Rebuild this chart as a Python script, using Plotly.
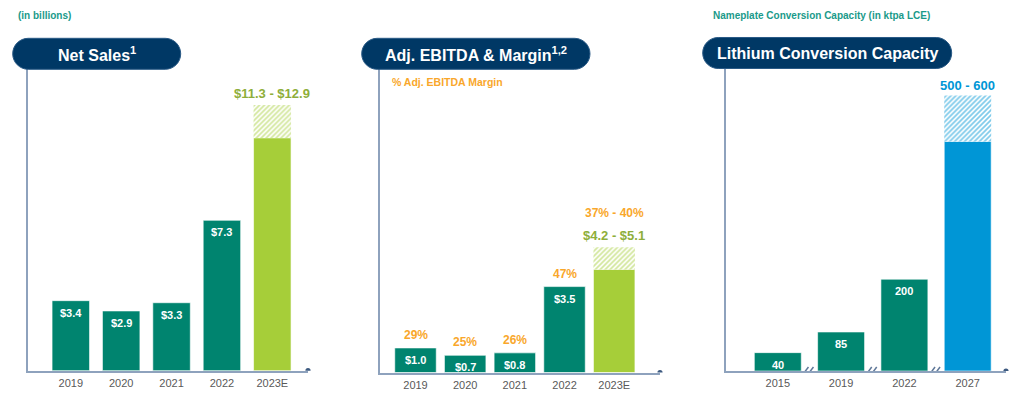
import plotly.graph_objects as go

W, H = 1024, 403

# ---------------- data ----------------
sales_years = ["2019", "2020", "2021", "2022", "2023E"]
net_sales = [3.4, 2.9, 3.3, 7.3, 11.3]
net_sales_high = 12.9
net_sales_labels = ["$3.4", "$2.9", "$3.3", "$7.3"]
sales_range_label = "$11.3 - $12.9"

ebitda_years = ["2019", "2020", "2021", "2022", "2023E"]
ebitda = [1.0, 0.7, 0.8, 3.5, 4.2]
ebitda_high = 5.1
ebitda_labels = ["$1.0", "$0.7", "$0.8", "$3.5"]
ebitda_range_label = "$4.2 - $5.1"
margins = ["29%", "25%", "26%", "47%", "37% - 40%"]

cap_years = ["2015", "2019", "2022", "2027"]
capacity = [40, 85, 200, 500]
capacity_high = 600
cap_labels = ["40", "85", "200"]
cap_range_label = "500 - 600"

# ---------------- styles ----------------
TEAL = "#00846F"
LIME = "#A6CE39"
BLUE = "#0096D6"
NAVY = "#003865"
ORANGE = "#F9A72B"
OLIVE = "#8EAE3A"
TITLE_TEAL = "#1A9A8A"
AXIS = "#8EA2BD"
DOT = "#3D5A80"
TICK = "#595959"
FONT = "Liberation Sans, Arial, sans-serif"


def px(x):
    return x / W


def py(y):
    return 1 - y / H


P1 = dict(xl=28.3, xr=308, c0=70.8, sp=50.375, base=370.7, top=69, ppu=20.6, bw=0.744)
P2 = dict(xl=380, xr=660, c0=415.5, sp=49.675, base=372.5, top=69, ppu=24.55, bw=0.835)
P3 = dict(xl=725.7, xr=1006, c0=777.8, sp=63.3, base=371, top=68.5, ppu=0.459, bw=0.742)

fig = go.Figure()


def add_panel(idx, years, vals, high, last_color, P):
    xa = "x" if idx == 1 else f"x{idx}"
    ya = "y" if idx == 1 else f"y{idx}"
    colors = [TEAL] * (len(vals) - 1) + [last_color]
    fig.add_trace(go.Bar(x=years, y=vals, xaxis=xa, yaxis=ya, width=P["bw"],
                         marker=dict(color=colors, line=dict(width=1, color="rgba(255,255,255,0.6)")),
                         showlegend=False, hoverinfo="skip"))
    fig.add_trace(go.Bar(x=[years[-1]], y=[high - vals[-1]], base=[vals[-1]],
                         xaxis=xa, yaxis=ya, width=P["bw"],
                         marker=dict(color="white",
                                     line=dict(width=0),
                                     pattern=dict(shape="/", fgcolor=last_color, bgcolor="white",
                                                  size=3.5, solidity=0.5, fillmode="overlay")),
                         showlegend=False, hoverinfo="skip"))
    r0 = (P["xl"] - P["c0"]) / P["sp"]
    r1 = (P["xr"] - P["c0"]) / P["sp"]
    ytop = (P["base"] - P["top"]) / P["ppu"]
    fig.layout[f"xaxis{'' if idx == 1 else idx}"] = dict(
        domain=[px(P["xl"]), px(P["xr"])], anchor=ya, type="category",
        categoryorder="array", categoryarray=years,
        range=[r0, r1], showline=True, linecolor=AXIS, linewidth=2,
        showgrid=False, zeroline=False, ticks="outside", ticklen=1,
        tickcolor="rgba(0,0,0,0)", tickfont=dict(family=FONT, size=11, color=TICK),
        fixedrange=True)
    fig.layout[f"yaxis{'' if idx == 1 else idx}"] = dict(
        domain=[py(P["base"]), py(P["top"])], anchor=xa, range=[0, ytop],
        showline=True, linecolor=AXIS, linewidth=2, showgrid=False, zeroline=False,
        showticklabels=False, ticks="", fixedrange=True)
    fig.add_shape(type="circle", xref=f"{xa} domain", yref=ya, xsizemode="pixel",
                  ysizemode="pixel", xanchor=1, yanchor=0, x0=-2.6, x1=2.6, y0=-2.6, y1=2.6,
                  fillcolor=DOT, line=dict(width=0))
    return xa, ya


def pill(x0, x1, y0, y1, text):
    r = (y1 - y0) / 2
    k = 0.5523 * r
    ym = (y0 + y1) / 2
    pts = [
        ("M", [(x0 + r, y0)]),
        ("L", [(x1 - r, y0)]),
        ("C", [(x1 - r + k, y0), (x1, ym - k), (x1, ym)]),
        ("C", [(x1, ym + k), (x1 - r + k, y1), (x1 - r, y1)]),
        ("L", [(x0 + r, y1)]),
        ("C", [(x0 + r - k, y1), (x0, ym + k), (x0, ym)]),
        ("C", [(x0, ym - k), (x0 + r - k, y0), (x0 + r, y0)]),
    ]
    path = ""
    for cmd, ps in pts:
        path += cmd + " " + " ".join(f"{px(a):.5f},{py(b):.5f}" for a, b in ps) + " "
    path += "Z"
    fig.add_shape(type="path", path=path, xref="paper", yref="paper",
                  fillcolor=NAVY, line=dict(width=1, color="#2A5A86"), layer="above")
    fig.add_annotation(x=px((x0 + x1) / 2), y=py(ym), xref="paper", yref="paper",
                       text=text, showarrow=False, xanchor="center", yanchor="middle",
                       font=dict(family=FONT, size=16, color="white", weight="bold"))


def inside_labels(xa, ya, vals, labels):
    for i, (v, lab) in enumerate(zip(vals, labels)):
        fig.add_annotation(x=i, y=v, xref=xa, yref=ya, text=lab, showarrow=False,
                           yanchor="top", yshift=-4,
                           font=dict(family=FONT, size=11, color="white", weight="bold"))


# ---------- panel 1 ----------
xa, ya = add_panel(1, sales_years, net_sales, net_sales_high, LIME, P1)
inside_labels(xa, ya, net_sales, net_sales_labels)
fig.add_annotation(x=len(sales_years) - 1, y=net_sales_high, xref=xa, yref=ya, text=sales_range_label,
                   showarrow=False, yanchor="bottom", yshift=2,
                   font=dict(family=FONT, size=13, color=OLIVE, weight="bold"))

# ---------- panel 2 ----------
xa, ya = add_panel(2, ebitda_years, ebitda, ebitda_high, LIME, P2)
inside_labels(xa, ya, ebitda, ebitda_labels)
for i, (v, m) in enumerate(zip(ebitda[:-1], margins[:-1])):
    fig.add_annotation(x=i, y=v, xref=xa, yref=ya, text=m, showarrow=False,
                       yanchor="bottom", yshift=4,
                       font=dict(family=FONT, size=12, color=ORANGE, weight="bold"))
last = len(ebitda_years) - 1
fig.add_annotation(x=last, y=ebitda_high, xref=xa, yref=ya, text=ebitda_range_label,
                   showarrow=False, yanchor="bottom", yshift=2,
                   font=dict(family=FONT, size=13, color=OLIVE, weight="bold"))
fig.add_annotation(x=last, y=ebitda_high, xref=xa, yref=ya, text=margins[-1],
                   showarrow=False, yanchor="bottom", yshift=25,
                   font=dict(family=FONT, size=12, color=ORANGE, weight="bold"))

# ---------- panel 3 ----------
xa, ya = add_panel(3, cap_years, capacity, capacity_high, BLUE, P3)
inside_labels(xa, ya, capacity, cap_labels)
fig.add_annotation(x=len(cap_years) - 1, y=capacity_high, xref=xa, yref=ya, text=cap_range_label,
                   showarrow=False, yanchor="bottom", yshift=1,
                   font=dict(family=FONT, size=13, color=BLUE, weight="bold"))
for i in range(len(cap_years) - 1):
    for off in (-5, 0):
        fig.add_shape(type="line", xref=xa, yref=ya, xsizemode="pixel", ysizemode="pixel",
                      xanchor=i + 0.5, yanchor=0, x0=off - 2, x1=off + 4, y0=-4, y1=4,
                      line=dict(color="#5F7899", width=1.5))

# ---------- titles ----------
pill(12.7, 180.7, 38.3, 69.3, "Net Sales<sup>1</sup>")
pill(361.7, 590, 38.3, 69.3, "Adj. EBITDA & Margin<sup>1,2</sup>")
pill(702.7, 951.7, 37.5, 68.5, "Lithium Conversion Capacity")

fig.add_annotation(x=px(16), y=py(15), xref="paper", yref="paper", text="(in billions)",
                   showarrow=False, xanchor="left", yanchor="middle",
                   font=dict(family=FONT, size=10, color=TITLE_TEAL, weight="bold"))
fig.add_annotation(x=px(711), y=py(15), xref="paper", yref="paper",
                   text="Nameplate Conversion Capacity (in ktpa LCE)",
                   showarrow=False, xanchor="left", yanchor="middle",
                   font=dict(family=FONT, size=10, color=TITLE_TEAL, weight="bold"))
fig.add_annotation(x=px(390), y=py(81.7), xref="paper", yref="paper",
                   text="% Adj. EBITDA Margin",
                   showarrow=False, xanchor="left", yanchor="middle",
                   font=dict(family=FONT, size=10.5, color=ORANGE, weight="bold"))

fig.update_layout(width=W, height=H, margin=dict(l=0, r=0, t=0, b=0),
                  paper_bgcolor="white", plot_bgcolor="white", barmode="overlay",
                  font=dict(family=FONT))

fig.write_html("out.html", config={"displayModeBar": False})
